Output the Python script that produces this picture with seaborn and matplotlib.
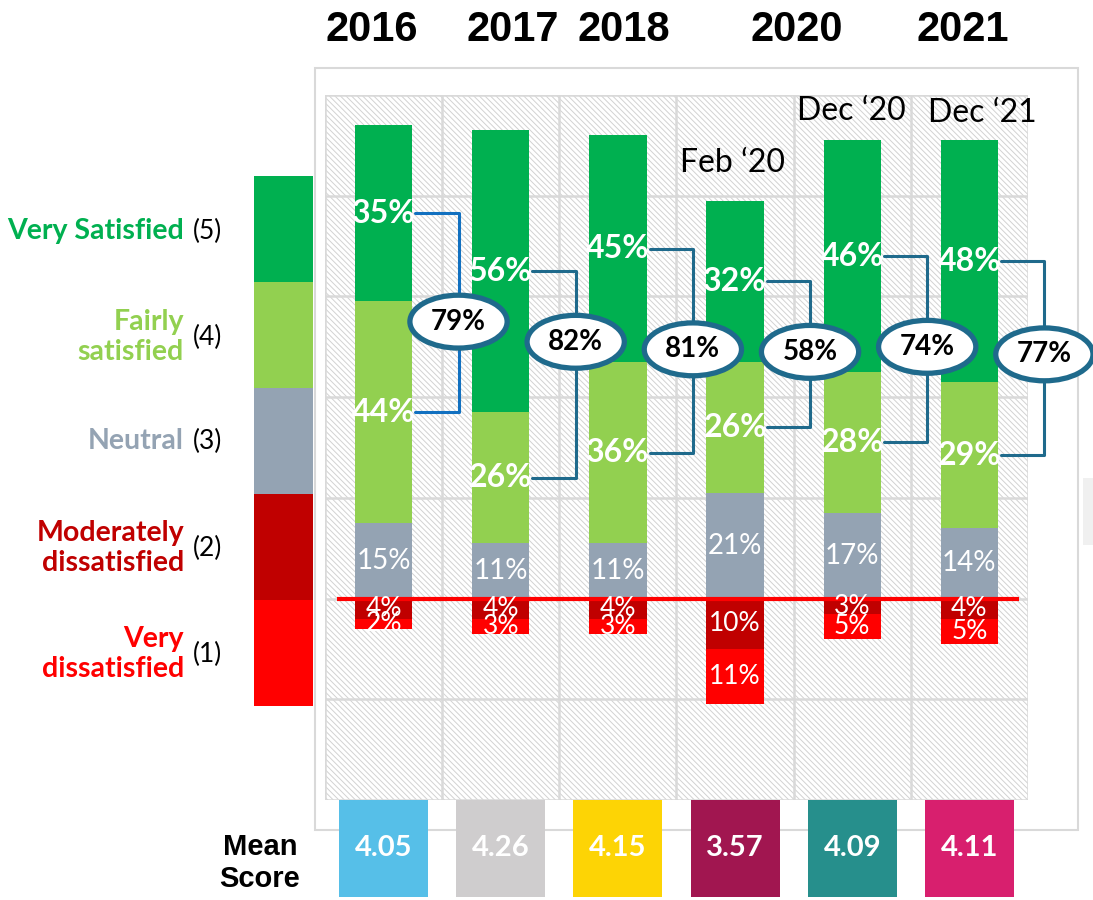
import matplotlib
matplotlib.use("Agg")  # Non-interactive backend
import matplotlib.pyplot as plt
from matplotlib.patches import Ellipse, Rectangle
import pandas as pd
import seaborn as sns

sns.set_theme(style="white")
plt.rcParams["font.family"] = ["Lato", "DejaVu Sans"]
plt.rcParams["hatch.color"] = "#D2D2D2"
plt.rcParams["hatch.linewidth"] = 0.7

# --- data ---
periods = ["2016", "2017", "2018", "Feb 2020", "Dec 2020", "Dec 2021"]
very_sat = [35, 56, 45, 32, 46, 48]
fairly_sat = [44, 26, 36, 26, 28, 29]
neutral = [15, 11, 11, 21, 17, 14]
mod_dis = [4, 4, 4, 10, 3, 4]
very_dis = [2, 3, 3, 11, 5, 5]
satisfied_total = [79, 82, 81, 58, 74, 77]
mean_scores = [4.05, 4.26, 4.15, 3.57, 4.09, 4.11]

year_labels = ["2016", "2017", "2018", "2020", "2021"]
wave_labels = ["Feb \u201820", "Dec \u201820", "Dec \u201821"]
legend_labels = ["Very Satisfied", "Fairly\nsatisfied", "Neutral",
                 "Moderately\ndissatisfied", "Very\ndissatisfied"]
legend_codes = ["(5)", "(4)", "(3)", "(2)", "(1)"]

# --- layout / styling (not data) ---
C_VSAT, C_FSAT, C_NEU, C_MOD, C_VDIS = "#00B050", "#92D050", "#94A3B3", "#C00000", "#FF0000"
box_colors = ["#56BFE8", "#CFCDCE", "#FDD405", "#A11650", "#268F8C", "#D81F6E"]
year_x = [-0.1, 1.1, 2.05, 3.53, 4.94]
wave_pos = [(2.98, 86.5), (3.99, 96.8), (5.11, 96.4)]
ellipse_y = [55, 51, 49.5, 49, 50, 48.5]
bracket_col = ["#1170C0", "#1F6A8C", "#1F6A8C", "#1F6A8C", "#1F6A8C", "#1F6A8C"]
NARROW = ["Liberation Sans Narrow", "Liberation Sans", "DejaVu Sans"]

df = pd.DataFrame({
    "period": periods,
    "very_sat": very_sat,
    "fairly_sat": fairly_sat,
    "neutral": neutral,
    "mod_dis": mod_dis,
    "very_dis": very_dis,
})
df["top"] = df["neutral"] + df["fairly_sat"] + df["very_sat"]
df["mid"] = df["neutral"] + df["fairly_sat"]
df["neg_all"] = -(df["mod_dis"] + df["very_dis"])
df["neg_mod"] = -df["mod_dis"]

fig = plt.figure(figsize=(10.93, 9.0), dpi=100)

# outer light frame + stray grey patch on the right
fig.add_artist(Rectangle((0.288, 0.078), 0.698, 0.846, transform=fig.transFigure,
                         fill=False, edgecolor="#D9D9D9", lw=1.5, zorder=-1))
fig.add_artist(Rectangle((0.991, 0.394), 0.02, 0.075, transform=fig.transFigure,
                         facecolor="#F0F0F0", edgecolor="none", zorder=-1))

ax = fig.add_axes([0.2973, 0.1111, 0.6432, 0.7833])
ax.add_patch(Rectangle((-0.5, -40), 6, 140, facecolor="white", edgecolor="#D2D2D2",
                       hatch="\\\\\\\\\\\\", lw=0, zorder=0))

# stacked bars drawn as cumulative layers
layers = [("top", C_VSAT), ("mid", C_FSAT), ("neutral", C_NEU),
          ("neg_all", C_VDIS), ("neg_mod", C_MOD)]
for col, colr in layers:
    sns.barplot(data=df, x="period", y=col, color=colr, width=0.49,
                saturation=1, linewidth=0, ax=ax, zorder=3)

for v in [-0.5, 0.5, 1.5, 2.5, 3.5, 4.5, 5.5]:
    ax.axvline(v, color="#D9D9D9", lw=1.8, zorder=1)
for h in range(-40, 101, 20):
    ax.axhline(h, color="#D9D9D9", lw=1.8, zorder=1)

ax.plot([-0.4, 5.42], [0, 0], color="#FF0000", lw=3, zorder=6, solid_capstyle="butt")

for i, r in df.iterrows():
    y_vs = r["mid"] + r["very_sat"] / 2
    y_fs = r["neutral"] + r["fairly_sat"] / 2
    ax.text(i, y_vs, f"{r['very_sat']}%", color="white", fontsize=23,
            fontweight="bold", ha="center", va="center", zorder=7)
    ax.text(i, y_fs, f"{r['fairly_sat']}%", color="white", fontsize=23,
            fontweight="bold", ha="center", va="center", zorder=7)
    ax.text(i, r["neutral"] / 2, f"{r['neutral']}%", color="white", fontsize=20,
            ha="center", va="center", zorder=7)
    ax.text(i, -r["mod_dis"] / 2, f"{r['mod_dis']}%", color="white", fontsize=19,
            ha="center", va="center", zorder=7)
    ax.text(i, -r["mod_dis"] - r["very_dis"] / 2, f"{r['very_dis']}%", color="white",
            fontsize=19, ha="center", va="center", zorder=7)

    # bracket + ellipse with combined satisfied share
    x0, xv = i + 0.27, i + 0.64
    ax.plot([x0, xv, xv, x0], [y_vs, y_vs, y_fs, y_fs], color=bracket_col[i],
            lw=2.2, zorder=8, clip_on=False)
    ax.add_patch(Ellipse((xv, ellipse_y[i]), 0.83, 10.5, facecolor="white",
                         edgecolor="#1F6A8C", lw=3.8, zorder=9, clip_on=False))
    ax.text(xv, ellipse_y[i], f"{satisfied_total[i]}%", fontsize=20, fontweight="bold",
            color="black", ha="center", va="center", zorder=10)

for lab, x in zip(year_labels, year_x):
    ax.text(x, 113, lab, fontsize=30, fontweight="bold", family=NARROW,
            color="black", ha="center", va="center", clip_on=False)
for lab, (x, y) in zip(wave_labels, wave_pos):
    ax.text(x, y, lab, fontsize=23, color="black", ha="center", va="center", zorder=7)

ax.set_xlim(-0.5, 5.5)
ax.set_ylim(-40, 100)
ax.set_xlabel("")
ax.set_ylabel("")
ax.set_xticks([])
ax.set_yticks([])
sns.despine(ax=ax, left=True, bottom=True)

# mean score boxes
axm = fig.add_axes([0.2973, 0.0033, 0.6432, 0.108])
sns.barplot(x=periods, y=[1] * len(periods), hue=periods, palette=box_colors,
            width=0.76, saturation=1, linewidth=0, legend=False, ax=axm)
for i, m in enumerate(mean_scores):
    axm.text(i, 0.5, f"{m:.2f}", color="white", fontsize=21, fontweight="bold",
             ha="center", va="center")
axm.set_xlim(-0.5, 5.5)
axm.set_ylim(0, 1)
axm.axis("off")
fig.text(260 / 1093, 1 - 863 / 900, "Mean\nScore", fontsize=21, fontweight="bold",
         family=NARROW, color="black", ha="center", va="center", linespacing=1.2)

# left colour key
axl = fig.add_axes([254 / 1093, 1 - 706 / 900, 59 / 1093, 530 / 900])
key_colors = [C_VSAT, C_FSAT, C_NEU, C_MOD, C_VDIS]
for k, colr in enumerate(key_colors):
    axl.add_patch(Rectangle((0, 4 - k), 1, 1, facecolor=colr, edgecolor="none"))
axl.set_xlim(0, 1)
axl.set_ylim(0, 5)
axl.axis("off")

key_y = [231, 337, 441, 548, 654]
for lab, code, colr, yp in zip(legend_labels, legend_codes, key_colors, key_y):
    fig.text(184 / 1093, 1 - yp / 900, lab, color=colr, fontsize=20.5, fontweight="bold",
             ha="right", va="center", multialignment="right", linespacing=1.2)
    fig.text(193 / 1093, 1 - yp / 900, code, color="black", fontsize=19,
             ha="left", va="center")

plt.savefig("out.png", dpi=100)
